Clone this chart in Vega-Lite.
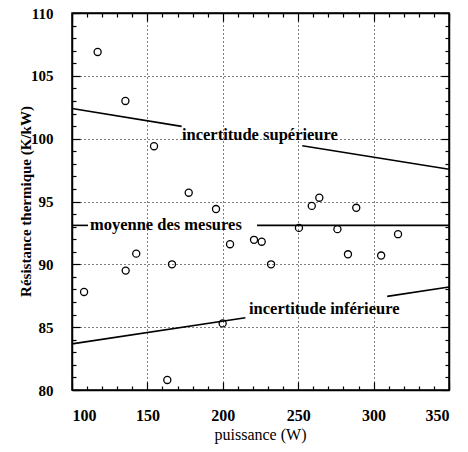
{
  "$schema": "https://vega.github.io/schema/vega-lite/v6.json",
  "width": 377,
  "height": 377,
  "autosize": "none",
  "padding": {"left": 72, "top": 13, "right": 19, "bottom": 62},
  "background": "white",
  "config": {
    "view": {"stroke": "black", "strokeWidth": 1.5},
    "font": "Liberation Serif",
    "axis": {
      "domainColor": "black",
      "domainWidth": 1.5,
      "tickColor": "black",
      "tickWidth": 1.2,
      "labelColor": "black",
      "titleColor": "black",
      "labelFont": "Liberation Serif",
      "titleFont": "Liberation Serif",
      "labelFontSize": 16,
      "labelFontWeight": "bold",
      "grid": false
    }
  },
  "datasets": {
    "points": [
      {"P": 117, "R": 106.9}, {"P": 135.4, "R": 103.0}, {"P": 154.4, "R": 99.4},
      {"P": 177.4, "R": 95.7}, {"P": 195.5, "R": 94.4}, {"P": 108, "R": 87.8},
      {"P": 135.6, "R": 89.5}, {"P": 142.6, "R": 90.85}, {"P": 166.3, "R": 90.0},
      {"P": 163.2, "R": 80.8}, {"P": 199.9, "R": 85.3}, {"P": 204.8, "R": 91.6},
      {"P": 220.7, "R": 91.95}, {"P": 225.8, "R": 91.8}, {"P": 232, "R": 90.0},
      {"P": 250.5, "R": 92.9}, {"P": 276, "R": 92.8}, {"P": 283, "R": 90.8},
      {"P": 305, "R": 90.7}, {"P": 316.2, "R": 92.4}, {"P": 259, "R": 94.65},
      {"P": 264, "R": 95.3}, {"P": 288.5, "R": 94.5}
    ],
    "bounds": [
      {"seg": "supA", "P": 100, "R": 102.4}, {"seg": "supA", "P": 172.7, "R": 100.98},
      {"seg": "supB", "P": 252.7, "R": 99.44}, {"seg": "supB", "P": 350, "R": 97.56},
      {"seg": "infA", "P": 100, "R": 83.67}, {"seg": "infA", "P": 215, "R": 85.75},
      {"seg": "infB", "P": 309, "R": 87.45}, {"seg": "infB", "P": 350, "R": 88.2}
    ],
    "mean": [
      {"seg": "A", "P": 100, "R": 93.1}, {"seg": "A", "P": 110.6, "R": 93.1},
      {"seg": "B", "P": 222.7, "R": 93.1}, {"seg": "B", "P": 350, "R": 93.1}
    ],
    "labels": [
      {"P": 172.9, "R": 99.9, "txt": "incertitude supérieure"},
      {"P": 111.9, "R": 92.74, "txt": "moyenne des mesures"},
      {"P": 217.4, "R": 86.05, "txt": "incertitude inférieure"}
    ]
  },
  "layer": [
    {
      "data": {"name": "points"},
      "mark": {"type": "point", "shape": "circle", "filled": false, "stroke": "black", "strokeWidth": 1.3, "size": 50, "opacity": 1},
      "encoding": {
        "x": {
          "field": "P", "type": "quantitative",
          "scale": {"domain": [100, 350], "nice": false, "zero": false},
          "axis": {
            "orient": "bottom", "values": [100, 150, 200, 250, 300, 350],
            "tickSize": -8, "labelPadding": 25,
            "grid": true, "gridDash": [1, 3], "gridColor": "black", "gridWidth": 1, "gridOpacity": 1,
            "title": "puissance (W)", "titleFontSize": 16, "titleFontWeight": "normal",
            "titleX": 188, "titleY": 44, "titleBaseline": "middle", "titleAlign": "center"
          }
        },
        "y": {
          "field": "R", "type": "quantitative",
          "scale": {"domain": [80, 110], "nice": false, "zero": false},
          "axis": {
            "orient": "left", "values": [80, 85, 90, 95, 100, 105, 110],
            "tickSize": -8, "labelPadding": 27, "labelFontSize": 15,
            "grid": true, "gridDash": [1, 3], "gridColor": "black", "gridWidth": 1, "gridOpacity": 1,
            "title": "Résistance thermique (K/kW)", "titleFontSize": 15, "titleFontWeight": "bold",
            "titleX": -47, "titleY": 188, "titleAngle": 270, "titleBaseline": "middle", "titleAlign": "center"
          }
        }
      }
    },
    {
      "data": {"name": "bounds"},
      "mark": {"type": "line", "color": "black", "strokeWidth": 1.6},
      "encoding": {
        "x": {"field": "P", "type": "quantitative", "scale": {"domain": [100, 350], "nice": false, "zero": false},
          "axis": {"orient": "top", "values": [100, 150, 200, 250, 300, 350], "tickSize": -8, "labels": false, "grid": false, "title": null}},
        "y": {"field": "R", "type": "quantitative", "scale": {"domain": [80, 110], "nice": false, "zero": false},
          "axis": {"orient": "right", "values": [80, 85, 90, 95, 100, 105, 110], "tickSize": -8, "labels": false, "grid": false, "title": null}},
        "detail": {"field": "seg"}
      }
    },
    {
      "data": {"name": "labels"},
      "mark": {"type": "text", "align": "left", "baseline": "alphabetic", "fontSize": 16.5, "fontWeight": "bold", "font": "Liberation Serif", "color": "black"},
      "encoding": {
        "x": {"field": "P", "type": "quantitative", "scale": {"domain": [100, 350], "nice": false, "zero": false},
          "axis": {"orient": "bottom", "values": [110, 120, 130, 140, 160, 170, 180, 190, 210, 220, 230, 240, 260, 270, 280, 290, 310, 320, 330, 340], "tickSize": -4, "labels": false, "domain": false, "grid": false, "title": null}},
        "y": {"field": "R", "type": "quantitative", "scale": {"domain": [80, 110], "nice": false, "zero": false},
          "axis": {"orient": "left", "values": [81, 82, 83, 84, 86, 87, 88, 89, 91, 92, 93, 94, 96, 97, 98, 99, 101, 102, 103, 104, 106, 107, 108, 109], "tickSize": -4, "labels": false, "domain": false, "grid": false, "title": null}},
        "text": {"field": "txt"}
      }
    },
    {
      "data": {"name": "mean"},
      "mark": {"type": "line", "color": "black", "strokeWidth": 1.6},
      "encoding": {
        "x": {"field": "P", "type": "quantitative", "scale": {"domain": [100, 350], "nice": false, "zero": false},
          "axis": {"orient": "top", "values": [110, 120, 130, 140, 160, 170, 180, 190, 210, 220, 230, 240, 260, 270, 280, 290, 310, 320, 330, 340], "tickSize": -4, "labels": false, "domain": false, "grid": false, "title": null}},
        "y": {"field": "R", "type": "quantitative", "scale": {"domain": [80, 110], "nice": false, "zero": false},
          "axis": {"orient": "right", "values": [81, 82, 83, 84, 86, 87, 88, 89, 91, 92, 93, 94, 96, 97, 98, 99, 101, 102, 103, 104, 106, 107, 108, 109], "tickSize": -4, "labels": false, "domain": false, "grid": false, "title": null}},
        "detail": {"field": "seg"}
      }
    }
  ],
  "resolve": {"axis": {"x": "independent", "y": "independent"}}
}
